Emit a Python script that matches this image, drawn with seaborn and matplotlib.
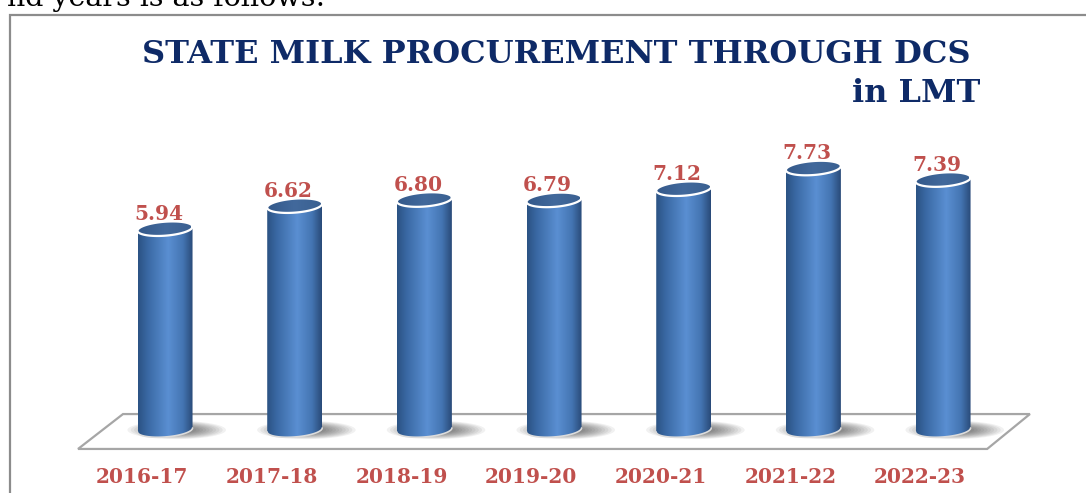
import numpy as np
import pandas as pd
import matplotlib
matplotlib.use("Agg")
import matplotlib.pyplot as plt
import seaborn as sns
from matplotlib.colors import LinearSegmentedColormap
from matplotlib.patches import Polygon, Rectangle

# ---- data ----
years = ["2016-17", "2017-18", "2018-19", "2019-20", "2020-21", "2021-22", "2022-23"]
procurement_lmt = [5.94, 6.62, 6.80, 6.79, 7.12, 7.73, 7.39]
title_line = "STATE MILK PROCUREMENT THROUGH DCS"
unit_line = "in LMT"
lead_in = "nd years is as follows:"

sns.set_theme(style="white")
plt.rcParams["font.family"] = ["DejaVu Serif"]

W, H = 1086, 493
fig = plt.figure(figsize=(W / 100, H / 100), dpi=100)
fig.patch.set_facecolor("white")

ax_bottom_px, ax_top_px = 453.7, 125.0
ax = fig.add_axes([100.2 / W, (H - ax_bottom_px) / H, 907.7 / W, (ax_bottom_px - ax_top_px) / H])

df = pd.DataFrame({"year": years, "lmt": procurement_lmt})
sns.barplot(data=df, x="year", y="lmt", ax=ax, width=0.424, color="#4F81BD",
            saturation=1, errorbar=None)

XLIM, YLIM = (-0.5, 6.5), (-0.7, 9.0)
ax.set_xlim(*XLIM)
ax.set_ylim(*YLIM)

# colours
body_cmap = LinearSegmentedColormap.from_list(
    "cyl", [(0.0, "#2B5283"), (0.18, "#3A69A4"), (0.55, "#5A8FD2"),
            (0.82, "#4475B2"), (1.0, "#294A78")])
top_cmap = LinearSegmentedColormap.from_list(
    "cyltop", [(0.0, "#34598A"), (0.5, "#42699C"), (1.0, "#3A6091")])
label_red = "#C0504D"
navy = "#0E2A67"

# floor (perspective slab)
floor = Polygon([(-0.671, -0.56), (-0.324, 0.47), (6.67, 0.47), (6.34, -0.56)],
                closed=True, facecolor="white", edgecolor="#A6A6A6", lw=1.6, zorder=1,
                clip_on=False)
ax.add_patch(floor)

b = 7.0 / 33.89          # half height of an ellipse, data units
shear = 2.0 / 33.89      # slight tilt of the ellipses
t = np.linspace(0, 2 * np.pi, 120)

grad = np.linspace(0, 1, 256)[None, :]

for p, v in zip(ax.patches, procurement_lmt):
    x0, w = p.get_x(), p.get_width()
    h = p.get_height()
    p.set_visible(False)
    cx, a = x0 + w / 2, w / 2

    # soft shadow on the floor, cast to the right
    for k in range(14):
        f = 1 - k / 15
        sx = cx + 0.09 + 0.38 * f * np.cos(t)
        sy = 0.0 + 0.27 * f * np.sin(t)
        ax.fill(sx, sy, color="black", alpha=0.055, lw=0, zorder=2)

    # body: rectangle with the lower half of the bottom ellipse
    tb = np.linspace(np.pi, 2 * np.pi, 60)
    bx = cx + a * np.cos(tb)
    by = 0.0 + b * np.sin(tb) + shear * np.cos(tb)
    body_pts = np.vstack([[x0, h - shear], np.column_stack([bx, by]), [x0 + w, h + shear]])
    body = Polygon(body_pts, closed=True, facecolor="none", edgecolor="none",
                   transform=ax.transData)
    ax.add_patch(body)
    im = ax.imshow(grad, extent=[x0, x0 + w, -b - 0.1, h + 0.1], aspect="auto",
                   cmap=body_cmap, zorder=3, interpolation="bilinear")
    im.set_clip_path(body)
    ax.plot(bx, by, color="#DCDCDC", lw=1.2, zorder=4)

    # top ellipse
    tx = cx + a * np.cos(t)
    ty = h + b * np.sin(t) + shear * np.cos(t)
    top = Polygon(np.column_stack([tx, ty]), closed=True, facecolor="none",
                  edgecolor="none", transform=ax.transData)
    ax.add_patch(top)
    imt = ax.imshow(grad, extent=[x0, x0 + w, h - b - 0.1, h + b + 0.1], aspect="auto",
                    cmap=top_cmap, zorder=5, interpolation="bilinear")
    imt.set_clip_path(top)
    ax.plot(tx, ty, color="white", lw=1.6, zorder=6)

    ax.text(cx - 0.05, h + b + 0.05, f"{v:.2f}", ha="center", va="baseline",
            fontsize=14.5, fontweight="bold", color=label_red, zorder=7)

ax.set_xlim(*XLIM)
ax.set_ylim(*YLIM)
ax.set_xlabel("")
ax.set_ylabel("")
ax.set_yticks([])
# category labels sit along the front edge of the floor, a little left of each bar
ax.set_xticks(np.arange(len(years)) - 0.177, labels=years)
ax.tick_params(axis="x", length=0, pad=9.5)
for lab in ax.get_xticklabels():
    lab.set_fontsize(14.5)
    lab.set_fontweight("bold")
    lab.set_color(label_red)
    lab.set_family("DejaVu Serif")
for s in ax.spines.values():
    s.set_visible(False)
ax.patch.set_alpha(0)

# chart frame
fig.patches.append(Rectangle((10 / W, -0.2), 1.2, (H - 15) / H + 0.2,
                             transform=fig.transFigure, fill=False,
                             edgecolor="#8C8C8C", lw=1.6, zorder=0))

# text
fig.text(325 / W, (H - 6) / H, lead_in, ha="right", va="baseline", fontsize=20.5,
         color="black")
fig.text(556 / W, (H - 63) / H, title_line, ha="center", va="baseline",
         fontsize=23, fontweight="bold", color=navy)
fig.text(980 / W, (H - 102) / H, unit_line, ha="right", va="baseline",
         fontsize=23, fontweight="bold", color=navy)

fig.savefig("out.png", dpi=100, facecolor="white")
